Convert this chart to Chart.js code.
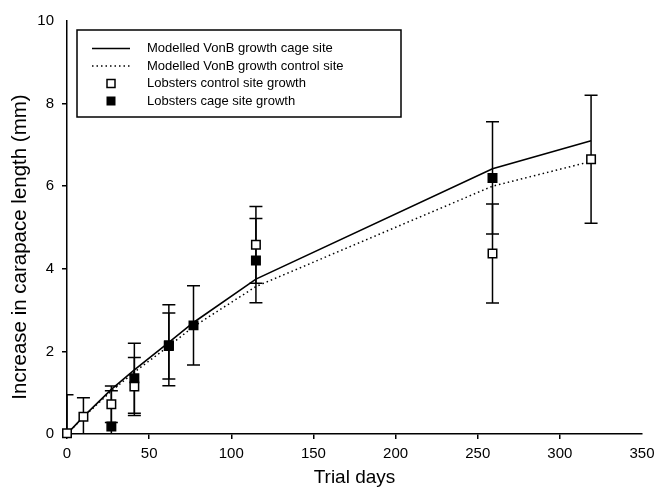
<!DOCTYPE html>
<html><head><meta charset="utf-8">
<script src="https://cdn.jsdelivr.net/npm/chart.js@4/dist/chart.umd.min.js"></script>
<style>html,body{margin:0;padding:0;background:#fff}</style>
</head><body>
<canvas id="c" width="656" height="487"></canvas>
<script>
// ---- data ----
const modelDays = [0, 10, 27, 41, 62, 77, 115, 259, 319];
const modelCage = [0, 0.42, 1.08, 1.55, 2.22, 2.70, 3.75, 6.42, 7.10];
const modelControl = [0, 0.41, 1.04, 1.50, 2.13, 2.60, 3.57, 6.00, 6.60];

const controlDays = [0, 10, 27, 41, 62, 115, 259, 319];
const controlMean = [0.02, 0.42, 0.72, 1.15, 2.13, 4.58, 4.37, 6.65];
const controlErr  = [0.93, 0.46, 0.44, 0.70, 0.80, 0.93, 1.20, 1.55];

const cageDays = [27, 41, 62, 77, 115, 259];
const cageMean = [0.18, 1.35, 2.15, 2.63, 4.20, 6.20];
const cageErr  = [0.87, 0.85, 0.98, 0.96, 1.02, 1.36];

const seriesLabels = [
  'Modelled VonB growth cage site',
  'Modelled VonB growth control site',
  'Lobsters control site growth',
  'Lobsters cage site growth'
];
const xTitle = 'Trial days';
const yTitle = 'Increase in carapace length (mm)';

const pts = (xs, ys) => xs.map((d, i) => ({x: d, y: ys[i]}));
const FONT = '"Liberation Sans", Arial, Helvetica, sans-serif';

const errorBars = {
  id: 'errorBars',
  beforeDatasetsDraw(chart) {
    const {ctx, chartArea: a, scales: {x, y}} = chart;
    ctx.save();
    ctx.beginPath();
    ctx.rect(a.left, a.top - 2, a.right - a.left, a.bottom - a.top + 2);
    ctx.clip();
    ctx.strokeStyle = '#000';
    ctx.lineWidth = 1.5;
    chart.data.datasets.forEach(ds => {
      if (!ds.errors) return;
      ds.data.forEach((p, i) => {
        const e = ds.errors[i];
        const px = x.getPixelForValue(p.x);
        const t = y.getPixelForValue(p.y + e), b = y.getPixelForValue(p.y - e);
        ctx.beginPath();
        ctx.moveTo(px, t); ctx.lineTo(px, b);
        ctx.moveTo(px - 6.5, t); ctx.lineTo(px + 6.5, t);
        ctx.moveTo(px - 6.5, b); ctx.lineTo(px + 6.5, b);
        ctx.stroke();
      });
    });
    ctx.restore();
  }
};

const boxLegend = {
  id: 'boxLegend',
  afterDraw(chart) {
    const ctx = chart.ctx;
    ctx.save();
    ctx.strokeStyle = '#000';
    ctx.lineWidth = 1.5;
    ctx.strokeRect(77, 30, 324, 87);
    const rows = [48.5, 66, 83.5, 101];
    ctx.font = '13px ' + FONT;
    ctx.fillStyle = '#000';
    ctx.textBaseline = 'middle';
    ctx.textAlign = 'left';
    ctx.beginPath(); ctx.setLineDash([]); ctx.moveTo(92, rows[0]); ctx.lineTo(130, rows[0]); ctx.stroke();
    ctx.beginPath(); ctx.setLineDash([1.5, 3]); ctx.moveTo(92, rows[1]); ctx.lineTo(130, rows[1]); ctx.stroke();
    ctx.setLineDash([]);
    ctx.fillStyle = '#fff';
    ctx.fillRect(107, rows[2] - 4, 8, 8);
    ctx.strokeRect(107, rows[2] - 4, 8, 8);
    ctx.fillStyle = '#000';
    ctx.fillRect(106.5, rows[3] - 4.5, 9, 9);
    seriesLabels.forEach((t, i) => ctx.fillText(t, 147, rows[i]));
    // y axis title
    ctx.translate(20, 247);
    ctx.rotate(-Math.PI / 2);
    ctx.font = '20.5px ' + FONT;
    ctx.textAlign = 'center';
    ctx.fillText(yTitle, 0, 0);
    ctx.restore();
  }
};

const hideLast = (max) => (c) => (c.tick && c.tick.value === max) ? 'rgba(0,0,0,0)' : '#000';

new Chart(document.getElementById('c'), {
  type: 'scatter',
  data: {
    datasets: [
      {
        label: seriesLabels[3], data: pts(cageDays, cageMean), errors: cageErr,
        pointStyle: 'rect', pointRadius: 6, pointBackgroundColor: '#000',
        pointBorderColor: '#000', pointBorderWidth: 1.5, showLine: false, order: 0, clip: false
      },
      {
        label: seriesLabels[2], data: pts(controlDays, controlMean), errors: controlErr,
        pointStyle: 'rect', pointRadius: 6, pointBackgroundColor: '#fff',
        pointBorderColor: '#000', pointBorderWidth: 1.5, showLine: false, order: 1, clip: false
      },
      {
        label: seriesLabels[0], data: pts(modelDays, modelCage), showLine: true,
        borderColor: '#000', borderWidth: 1.6, pointRadius: 0, order: 2, tension: 0
      },
      {
        label: seriesLabels[1], data: pts(modelDays, modelControl), showLine: true,
        borderColor: '#000', borderWidth: 1.5, borderDash: [1.5, 3], pointRadius: 0, order: 3, tension: 0
      }
    ]
  },
  options: {
    responsive: false, animation: false, devicePixelRatio: 1, events: [],
    layout: {padding: {left: 0, right: 14, top: 21, bottom: 0}},
    plugins: {legend: {display: false}, tooltip: {enabled: false}},
    scales: {
      x: {
        type: 'linear', min: 0, max: 350,
        ticks: {stepSize: 50, color: '#000', font: {family: FONT, size: 15}, padding: 6, maxRotation: 0},
        grid: {drawOnChartArea: false, drawTicks: true, tickLength: 5, color: hideLast(350), lineWidth: 1.5},
        border: {display: true, color: '#000', width: 1.5},
        title: {display: true, text: xTitle, color: '#000', font: {family: FONT, size: 19, lineHeight: 1}, padding: 0},
        afterFit: (s) => { s.height = 53; s.paddingRight = 0; s.paddingLeft = 0; }
      },
      y: {
        type: 'linear', min: 0, max: 10,
        ticks: {stepSize: 2, color: '#000', font: {family: FONT, size: 15}, padding: 8},
        grid: {drawOnChartArea: false, drawTicks: true, tickLength: 5, color: hideLast(10), lineWidth: 1.5},
        border: {display: true, color: '#000', width: 1.5},
        title: {display: false},
        afterFit: (s) => { s.width = 67; }
      }
    }
  },
  plugins: [errorBars, boxLegend]
});
</script>
</body></html>
